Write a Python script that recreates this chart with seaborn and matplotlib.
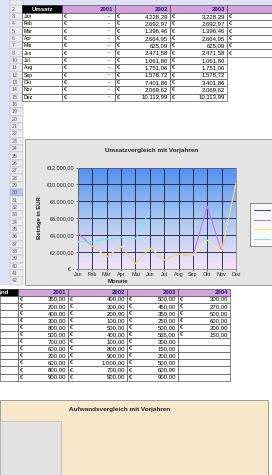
import numpy as np
import pandas as pd
import matplotlib
matplotlib.use("Agg")
import matplotlib.pyplot as plt
from matplotlib.patches import Rectangle, Polygon
from matplotlib.lines import Line2D
from matplotlib.colors import LinearSegmentedColormap
from matplotlib.ticker import FuncFormatter
import seaborn as sns

# --- Daten ---
monate = ["Jan", "Feb", "Mär", "Apr", "Mai", "Jun", "Jul", "Aug", "Sep", "Okt", "Nov", "Dez"]
jahre = ["2001", "2002", "2003", "2004"]
umsatz_2001 = [0, 0, 0, 0, 0, 0, 0, 0, 0, 0, 0, 0]
umsatz_2002 = [4228.29, 2692.97, 1396.46, 2664.95, 625.09, 2471.58,
               1061.80, 1751.06, 1578.72, 7401.86, 2069.62, 10113.99]
umsatz_2003 = [3228.29, 2692.97, 1396.46, 2664.95, 625.09, 2471.58,
               1061.80, 1751.06, 1578.72, 3401.86, 2069.62, 10113.99]
umsatz_2004 = [3228.29, 3180.20, 3524.20, 3689.20, 3541.20, 6918.50]

aufwand_2001 = [350, 200, 400, 300, 800, 500, 700, 600, 200, 600, 800, 900]
aufwand_2002 = [400, 300, 200, 100, 500, 400, 100, 800, 900, 1000, 700, 500]
aufwand_2003 = [500, 450, 350, 250, 500, 566, 300, 150, 200, 500, 600, 900]
aufwand_2004 = [300, 270, 500, 600, 200, 150]

# Zeilennummern links (Zeile 9, 17, 18 ausgeblendet)
zeilen = ["2", "3", "4", "5", "6", "7", "8", "10", "11", "12", "13", "14", "15",
          "16", "19", "20", "21", "22", "23", "24", "25", "26", "27", "28", "29",
          "30", "31", "32", "33", "34", "35", "36", "37", "38", "39", "40", "41", "42"]

farben = {"2001": "#55558e", "2002": "#cc6ff0", "2003": "#f3ef84", "2004": "#80e4f4"}

plt.rcParams["font.family"] = ["Liberation Sans", "DejaVu Sans"]


def eur(v):
    s = f"{v:,.2f}"
    return s.replace(",", "X").replace(".", ",").replace("X", ".")


# Blatt-Koordinaten: Breite 272, Hoehe H (wird auf 475 px gestaucht)
H = 530.0


def fy(y):
    return 1 - y / H


fig = plt.figure(figsize=(2.72, 4.75), dpi=100)
fig.patch.set_facecolor("white")
bg = fig.add_axes([0, 0, 1, 1])
bg.set_xlim(0, 272)
bg.set_ylim(H, 0)
bg.axis("off")

# --- Excel-Rahmen ---
zh = 8.2
y0 = 6
bg.add_patch(Rectangle((0, 0), 272, y0, color="#dde3f5", lw=0))
bg.add_patch(Rectangle((0, 0), 10, 318, color="#dde3f5", lw=0))
for i, z in enumerate(zeilen):
    yy = y0 + i * zh
    fc = "#b9c4ea" if z == "30" else "#ececf0"
    bg.add_patch(Rectangle((10, yy), 13, zh, fc=fc, ec="#a8a8b4", lw=0.3))
    bg.text(12, yy + zh / 2, z, fontsize=3.8, color="#555", va="center")
bg.add_patch(Rectangle((10, 0), 13, y0, fc="#ececf0", ec="#a8a8b4", lw=0.3))

# --- Tabelle Umsatz ---
sp1 = [22, 62, 115, 170, 227, 300]
bg.add_patch(Rectangle((sp1[0], y0), sp1[1] - sp1[0], zh, fc="black", ec="black", lw=0.4))
bg.text((sp1[0] + sp1[1]) / 2, y0 + zh / 2, "Umsatz", color="white", fontsize=4.3,
        fontweight="bold", ha="center", va="center")
for j, jahr in enumerate(jahre):
    bg.add_patch(Rectangle((sp1[j + 1], y0), sp1[j + 2] - sp1[j + 1], zh,
                           fc="#d3a2dc", ec="#333", lw=0.4))
    bg.text(sp1[j + 2] - 2, y0 + zh / 2, jahr, color="#1a1a80", fontsize=4.3,
            fontweight="bold", ha="right", va="center")
umsatz = [umsatz_2001, umsatz_2002, umsatz_2003, umsatz_2004]
for i, m in enumerate(monate):
    yy = y0 + (i + 1) * zh
    bg.add_patch(Rectangle((sp1[0], yy), sp1[1] - sp1[0], zh, fc="white", ec="#333", lw=0.4))
    bg.text(sp1[0] + 2, yy + zh / 2, m, fontsize=3.7, va="center")
    for j, werte in enumerate(umsatz):
        if i >= len(werte):
            continue
        x1, x2 = sp1[j + 1], sp1[j + 2]
        bg.add_patch(Rectangle((x1, yy), x2 - x1, zh, fc="white", ec="#333", lw=0.4))
        bg.text(x1 + 2, yy + zh / 2, "€", fontsize=4.1, va="center")
        txt = "-" if werte[i] == 0 else eur(werte[i])
        bg.text(x2 - (5 if werte[i] == 0 else 2), yy + zh / 2, txt, fontsize=4.3,
                ha="right", va="center")
        if j in (1, 2):
            bg.add_patch(Polygon([[x1 + 0.3, yy + 0.3], [x1 + 2.5, yy + 0.3], [x1 + 0.3, yy + 2.8]],
                                 color="#1a9a1a", lw=0))

# --- Diagramm Umsatz ---
bg.add_patch(Rectangle((25, 155), 260, 163, fc="#e4e4e4", ec="#8c8c8c", lw=0.6))
fig.text(152 / 272, fy(168), "Umsatzvergleich mit Vorjahren", fontsize=4.6,
         fontweight="bold", ha="center", va="center", color="#222")

df = pd.DataFrame({
    "Monat": [m for werte in umsatz for m in monate[:len(werte)]],
    "Jahr": [jahre[j] for j, werte in enumerate(umsatz) for _ in werte],
    "Betrag": [v for werte in umsatz for v in werte],
})
df["pos"] = df["Monat"].map({m: i for i, m in enumerate(monate)})

ax = fig.add_axes([78 / 272, fy(300), 158 / 272, 113 / H])
verlauf = LinearSegmentedColormap.from_list("verlauf", ["#f5e4f6", "#a9c9f2", "#4f8ef0"])
ax.imshow(np.linspace(0, 1, 100).reshape(-1, 1), extent=[0, 11, 0, 12000], origin="lower",
          aspect="auto", cmap=verlauf, zorder=0)
sns.lineplot(data=df, x="pos", y="Betrag", hue="Jahr", palette=farben, sort=False,
             linewidth=0.8, legend=False, ax=ax, zorder=3)
ax.set_xlim(0, 11)
ax.set_ylim(0, 12000)
ax.set_xticks(range(12))
ax.set_xticklabels(monate)
ax.set_yticks(range(0, 12001, 2000))
ax.yaxis.set_major_formatter(FuncFormatter(lambda v, p: "€ -" if v == 0 else "€" + eur(v)))
ax.grid(True, color="#1c1c3a", lw=0.6, zorder=2)
ax.tick_params(labelsize=3.9, length=1.5, pad=1, width=0.4, colors="#222")
ax.set_xlabel("")
ax.set_ylabel("")
for s in ax.spines.values():
    s.set_color("#777")
    s.set_linewidth(0.5)
fig.text(39 / 272, fy(243), "Beträge in EUR", rotation=90, fontsize=4.2,
         fontweight="bold", ha="center", va="center", color="#222")
fig.text(118 / 272, fy(314), "Monate", fontsize=4.2, fontweight="bold",
         ha="center", va="center", color="#222")

griffe = [Line2D([], [], color=farben[j], lw=0.8) for j in jahre]
leg = ax.legend(griffe, jahre, loc="upper left", bbox_to_anchor=(247 / 272, fy(224)),
                bbox_transform=fig.transFigure, fontsize=3.8, frameon=True, fancybox=False,
                edgecolor="#444", handlelength=3, borderpad=0.8, labelspacing=0.9)
leg.get_frame().set_linewidth(0.5)

# --- Tabelle Aufwand ---
sp2 = [0, 18, 68, 127, 178, 230]
zh2 = 7.9
y2 = 322
bg.add_patch(Rectangle((sp2[0], y2), sp2[1] - sp2[0], zh2, fc="black", ec="black", lw=0.4))
bg.text(9, y2 + zh2 / 2, "Aufwand", color="white", fontsize=4.3, fontweight="bold",
        ha="right", va="center")
for j, jahr in enumerate(jahre):
    bg.add_patch(Rectangle((sp2[j + 1], y2), sp2[j + 2] - sp2[j + 1], zh2,
                           fc="#d3a2dc", ec="#333", lw=0.4))
    bg.text(sp2[j + 2] - 2, y2 + zh2 / 2, jahr, color="#1a1a80", fontsize=4.3,
            fontweight="bold", ha="right", va="center")
aufwand = [aufwand_2001, aufwand_2002, aufwand_2003, aufwand_2004]
for i in range(len(monate)):
    yy = y2 + (i + 1) * zh2
    bg.add_patch(Rectangle((sp2[0], yy), sp2[1] - sp2[0], zh2, fc="white", ec="#333", lw=0.4))
    for j, werte in enumerate(aufwand):
        x1, x2 = sp2[j + 1], sp2[j + 2]
        bg.add_patch(Rectangle((x1, yy), x2 - x1, zh2, fc="white", ec="#333", lw=0.4))
        if i >= len(werte):
            continue
        bg.text(x1 + 2, yy + zh2 / 2, "€", fontsize=4.1, va="center")
        bg.text(x2 - 2, yy + zh2 / 2, eur(werte[i]), fontsize=4.3, ha="right", va="center")

# --- Diagramm Aufwand (angeschnitten) ---
bg.add_patch(Rectangle((0, 446), 268, 100, fc="#f6e8c8", ec="#8c8c8c", lw=0.6))
bg.add_patch(Rectangle((0, 470), 61, 80, fc="#e2e2e2", ec="#b0b0b0", lw=0.4))
fig.text(120 / 272, fy(457), "Aufwandsvergleich mit Vorjahren", fontsize=4.6,
         fontweight="bold", ha="center", va="center", color="#222")

fig.savefig("out.png", dpi=100)
